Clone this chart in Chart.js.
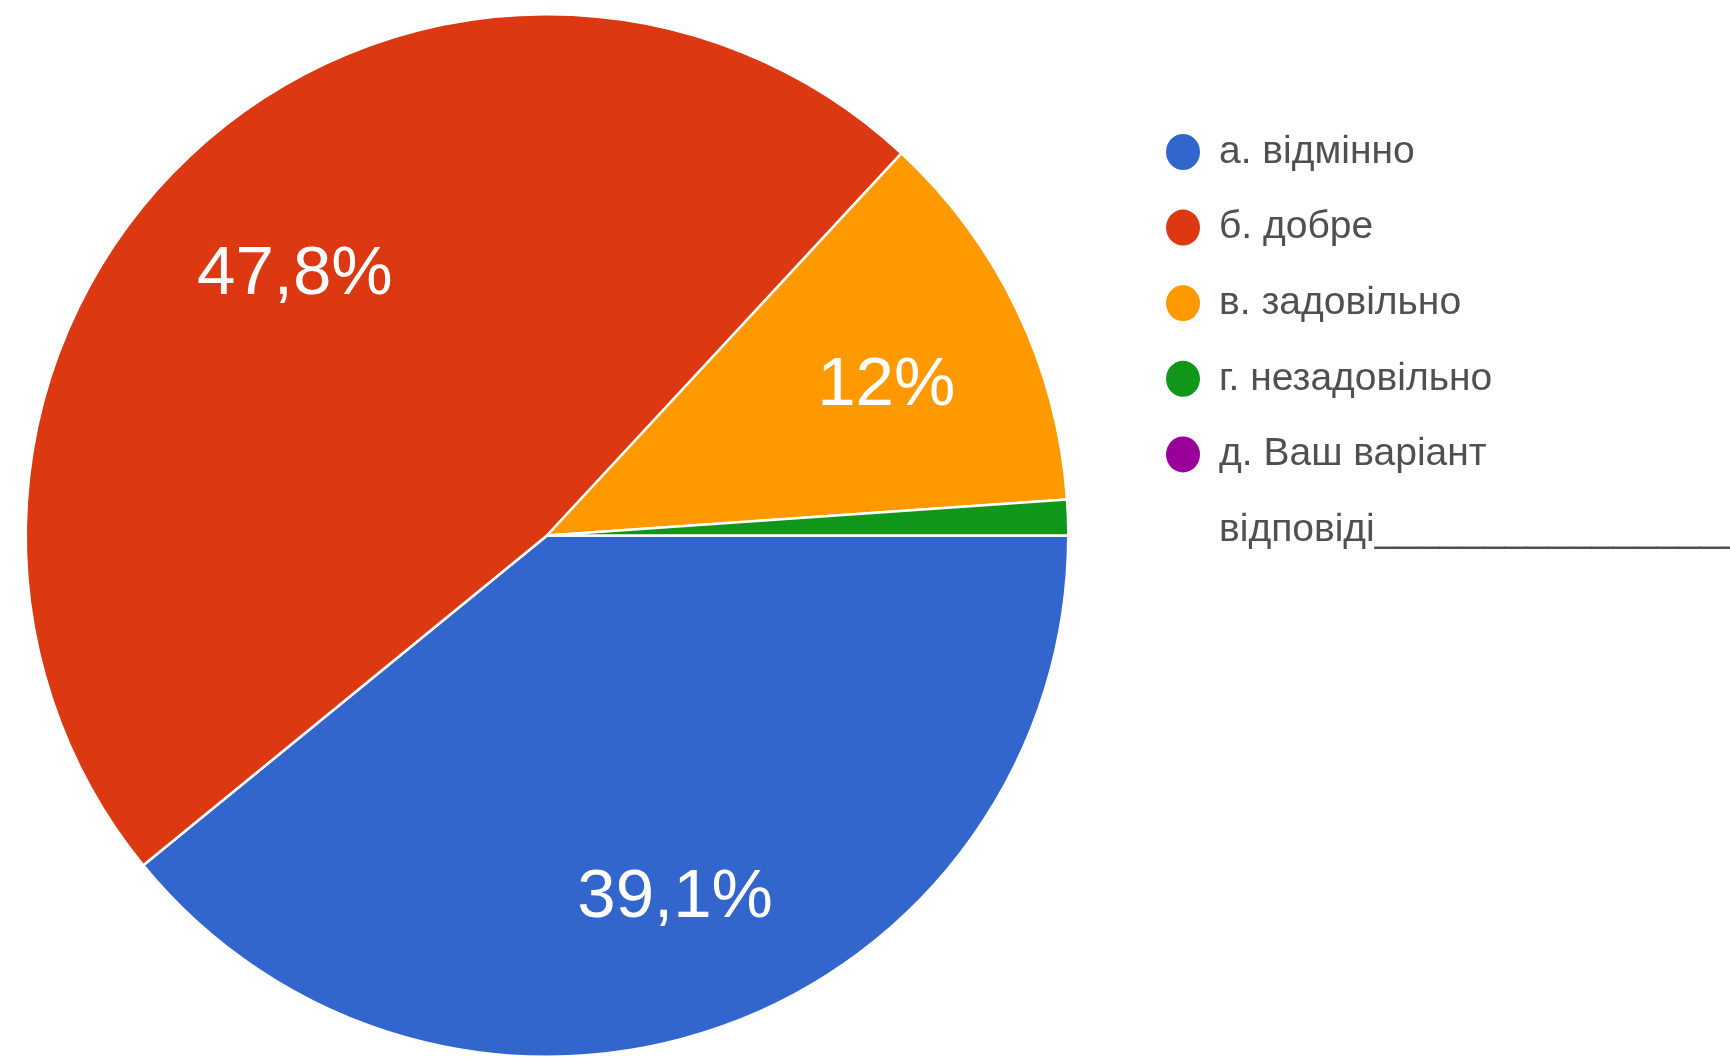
<!DOCTYPE html>
<html>
<head>
<meta charset="utf-8">
<script src="https://cdn.jsdelivr.net/npm/chart.js@4.4.1/dist/chart.umd.min.js"></script>
<style>
  html, body { margin: 0; padding: 0; background: #fff; overflow: hidden; }
  #wrap { width: 1730px; height: 1058px; position: relative; }
</style>
</head>
<body>
<div id="wrap"><canvas id="survey-pie"></canvas></div>
<script>
// Survey answers (percent of responses)
const categories = ['а. відмінно', 'б. добре', 'в. задовільно', 'г. незадовільно', 'д. Ваш варіант відповіді'];
const shares = [39.1, 47.8, 12, 1.1, 0];
const sliceColors = ['#3366cc', '#dc3912', '#ff9900', '#109618', '#990099'];

// legend lines per category (last one wraps, with the blank line to fill in)
const legendLines = [
    ['а. відмінно'],
    ['б. добре'],
    ['в. задовільно'],
    ['г. незадовільно'],
    ['д. Ваш варіант', 'відповіді' + '_'.repeat(40)]
];

function formatPct(v) {
    return String(v).replace('.', ',') + '%';
}

// percent labels inside the slices
const sliceLabels = {
    id: 'sliceLabels',
    afterDatasetsDraw(chart) {
        const ctx = chart.ctx;
        const meta = chart.getDatasetMeta(0);
        ctx.save();
        ctx.font = '69px "Liberation Sans", Arial, sans-serif';
        ctx.fillStyle = '#ffffff';
        ctx.textAlign = 'center';
        ctx.textBaseline = 'middle';
        meta.data.forEach((arc, i) => {
            const v = chart.data.datasets[0].data[i];
            if (v < 5) return;
            const p = arc.getProps(['x', 'y', 'startAngle', 'endAngle', 'outerRadius']);
            const mid = (p.startAngle + p.endAngle) / 2;
            const r = p.outerRadius * 0.715;
            ctx.fillText(formatPct(v), p.x + Math.cos(mid) * r + 3, p.y + Math.sin(mid) * r + 11);
        });
        ctx.restore();
    }
};

// legend on the right, drawn by hand
const sideLegend = {
    id: 'sideLegend',
    afterDraw(chart) {
        const ctx = chart.ctx;
        const colors = chart.data.datasets[0].backgroundColor;
        const markerX = 1183, textX = 1219, firstY = 152, rowGap = 75.6, lineGap = 76;
        ctx.save();
        ctx.font = '39px "Liberation Sans", Arial, sans-serif';
        ctx.textBaseline = 'middle';
        ctx.textAlign = 'left';
        chart.data.labels.forEach((lab, i) => {
            const y = firstY + i * rowGap;
            ctx.fillStyle = colors[i];
            ctx.beginPath();
            ctx.ellipse(markerX, y, 17, 18, 0, 0, Math.PI * 2);
            ctx.fill();
            ctx.fillStyle = '#505050';
            legendLines[i].forEach((ln, j) => {
                ctx.fillText(ln, textX, y + j * lineGap);
            });
        });
        ctx.restore();
    }
};

const ctx = document.getElementById('survey-pie').getContext('2d');
const surveyChart = new Chart(ctx, {
    type: 'pie',
    data: {
        labels: categories,
        datasets: [{
            data: shares,
            backgroundColor: sliceColors,
            borderColor: '#ffffff',
            borderWidth: 2.5
        }]
    },
    options: {
        responsive: true,
        maintainAspectRatio: false,
        animation: false,
        rotation: 90,
        layout: {
            padding: { left: 21, top: 13, right: 657, bottom: 0 }
        },
        plugins: {
            legend: { display: false },
            tooltip: { enabled: false }
        }
    },
    plugins: [sliceLabels, sideLegend]
});
</script>
</body>
</html>
